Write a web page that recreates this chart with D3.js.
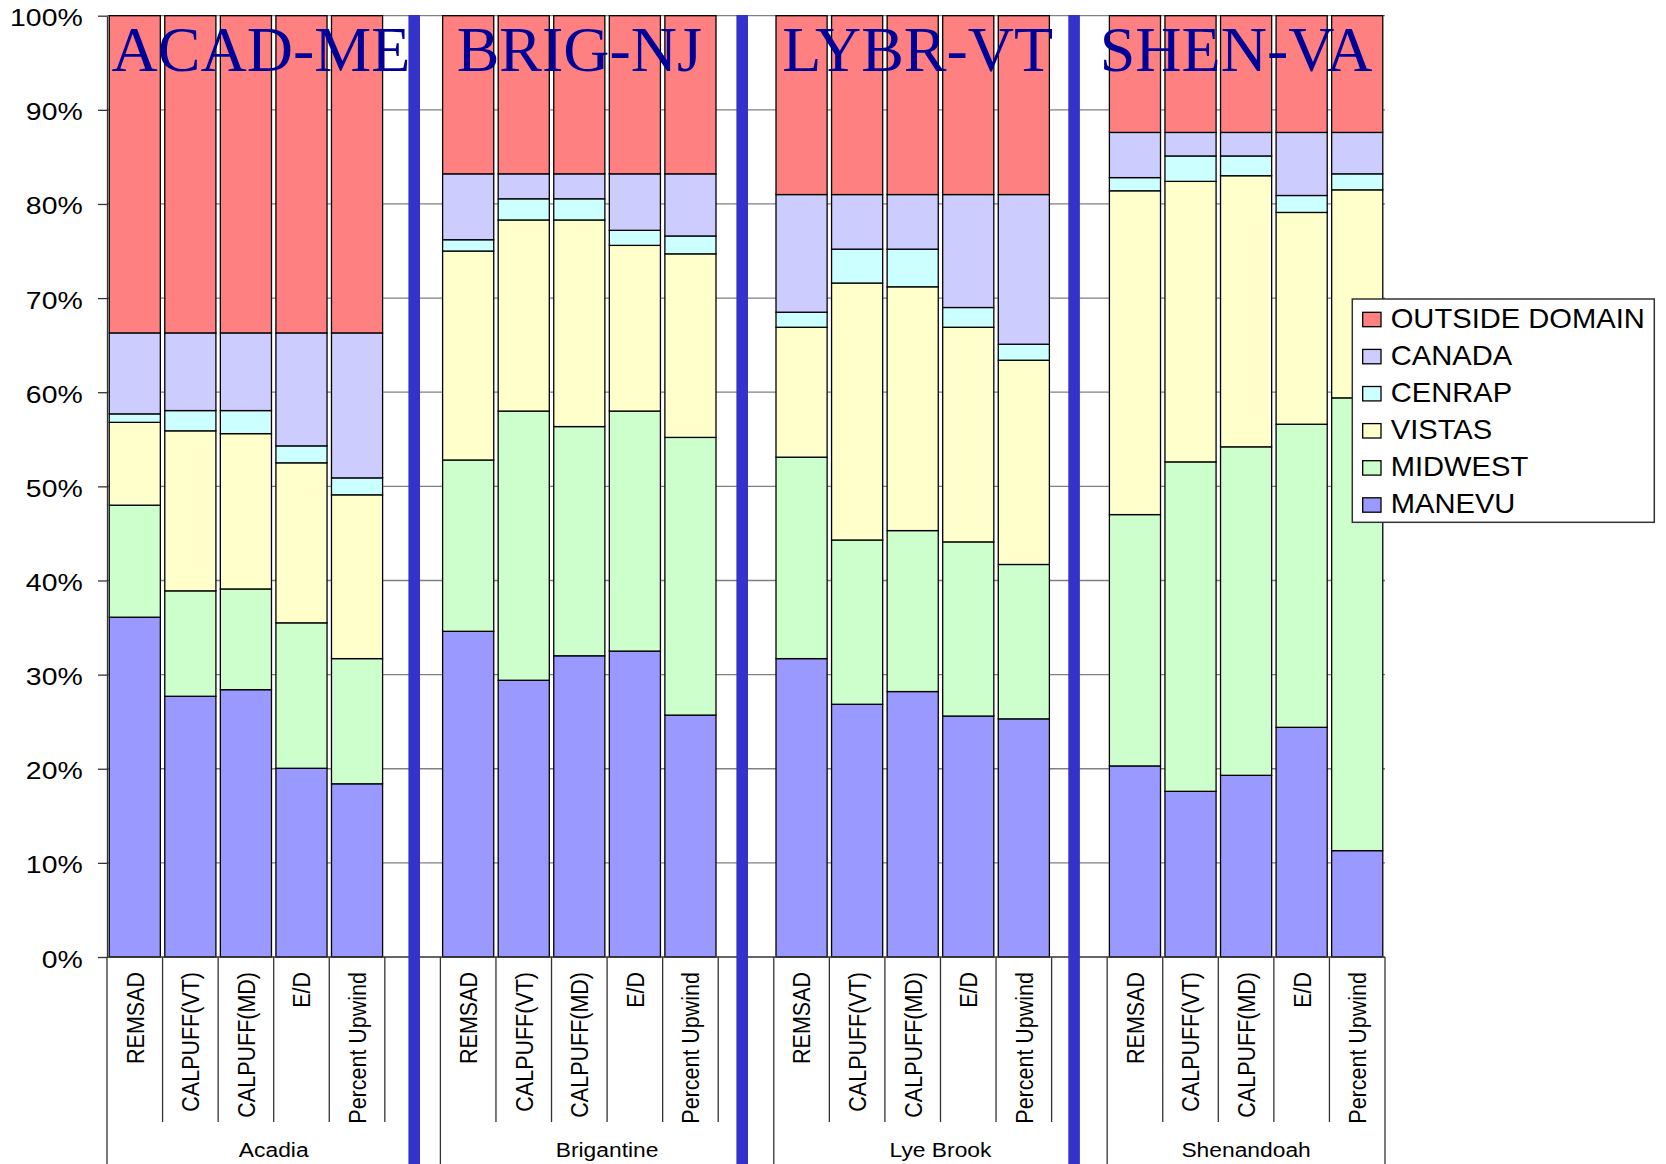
<!DOCTYPE html>
<html>
<head>
<meta charset="utf-8">
<script src="https://cdn.jsdelivr.net/npm/d3@7"></script>
<style>
body { margin: 0; background: #fff; }
text { font-family: "Liberation Sans", Arial, sans-serif; }
</style>
</head>
<body>
<script>
const width = 1666;
const height = 1164;

// data (percent of total, bottom to top)
const sites = ["Acadia", "Brigantine", "Lye Brook", "Shenandoah"];
const siteCodes = ["ACAD-ME", "BRIG-NJ", "LYBR-VT", "SHEN-VA"];
const methods = ["REMSAD", "CALPUFF(VT)", "CALPUFF(MD)", "E/D", "Percent Upwind"];
const regions = ["MANEVU", "MIDWEST", "VISTAS", "CENRAP", "CANADA", "OUTSIDE DOMAIN"];
const colors = ["#9999ff", "#ccffcc", "#ffffcc", "#ccffff", "#ccccff", "#ff8080"];

const manevu  = [36.1, 27.7, 28.4, 20.05, 18.4,  34.6, 29.4, 32.0, 32.5, 25.7,  31.7, 26.85, 28.2, 25.6, 25.3,  20.3, 17.6, 19.3, 24.4, 11.3];
const midwest = [11.9, 11.2, 10.7, 15.45, 13.3,  18.2, 28.6, 24.35, 25.5, 29.5,  21.4, 17.45, 17.1, 18.5, 16.4,  26.7, 35.0, 34.9, 32.2, 48.1];
const vistas  = [8.8, 17.0, 16.5, 17.0, 17.4,  22.2, 20.3, 21.95, 17.6, 19.5,  13.8, 27.3, 25.9, 22.8, 21.7,  34.4, 29.8, 28.8, 22.5, 22.1];
const cenrap  = [0.9, 2.15, 2.45, 1.8, 1.8,  1.2, 2.25, 2.25, 1.6, 1.9,  1.6, 3.6, 4.0, 2.1, 1.7,  1.4, 2.7, 2.1, 1.8, 1.7];
const canada  = [8.6, 8.25, 8.25, 12.0, 15.4,  7.0, 2.65, 2.65, 6.0, 6.6,  12.5, 5.8, 5.8, 12.0, 15.9,  4.8, 2.5, 2.5, 6.7, 4.4];
const outside = [33.7, 33.7, 33.7, 33.7, 33.7,  16.8, 16.8, 16.8, 16.8, 16.8,  19.0, 19.0, 19.0, 19.0, 19.0,  12.4, 12.4, 12.4, 12.4, 12.4];
const seriesValues = [manevu, midwest, vistas, cenrap, canada, outside];

const yTicks = [0, 0.1, 0.2, 0.3, 0.4, 0.5, 0.6, 0.7, 0.8, 0.9, 1.0];

// layout
const plotLeft = 107, plotRight = 1385, plotTop = 15.7, plotBottom = 957;
const xStretch = 1.15;

const svg = d3.select("body").append("svg")
    .attr("width", width)
    .attr("height", height);

// one slot per bar, plus an empty slot after each site except the last
const slots = [];
sites.forEach((s, i) => {
    methods.forEach(m => slots.push(s + "|" + m));
    if (i < sites.length - 1) slots.push(s + "|gap");
});

const x = d3.scaleBand()
    .domain(slots)
    .range([plotLeft, plotRight])
    .paddingInner(0.08)
    .paddingOuter(0.04);
const step = x.step();
const slotStart = k => x(k) - step * 0.04;

const y = d3.scaleLinear().domain([0, 1]).range([plotBottom, plotTop]);

const rows = [];
sites.forEach((s, i) => {
    methods.forEach((m, j) => {
        const row = { key: s + "|" + m };
        regions.forEach((r, k) => row[r] = seriesValues[k][i * methods.length + j]);
        rows.push(row);
    });
});

const stacked = d3.stack().keys(regions).offset(d3.stackOffsetExpand)(rows);

// gridlines
svg.append("g")
    .selectAll("line")
    .data(yTicks.filter(d => d > 0))
    .join("line")
    .attr("x1", plotLeft)
    .attr("x2", plotRight)
    .attr("y1", d => y(d))
    .attr("y2", d => y(d))
    .attr("stroke", "#808080")
    .attr("stroke-width", 1.3);

// bars
svg.append("g")
    .selectAll("g")
    .data(stacked)
    .join("g")
    .attr("fill", (d, i) => colors[i])
    .selectAll("rect")
    .data(d => d)
    .join("rect")
    .attr("x", d => x(d.data.key))
    .attr("width", x.bandwidth())
    .attr("y", d => y(d[1]))
    .attr("height", d => y(d[0]) - y(d[1]))
    .attr("stroke", "#000")
    .attr("stroke-width", 1.3);

// y axis
const yAxis = svg.append("g")
    .attr("transform", `translate(${plotLeft},0)`)
    .call(d3.axisLeft(y).tickValues(yTicks).tickFormat(d3.format(".0%")).tickSize(9).tickSizeOuter(0));
yAxis.select(".domain").attr("stroke", "#333").attr("stroke-width", 1.3);
yAxis.selectAll(".tick line").attr("stroke", "#333").attr("stroke-width", 1.3);
yAxis.selectAll(".tick text")
    .attr("x", -24.3 / xStretch)
    .attr("dy", null)
    .attr("y", 10)
    .attr("transform", `scale(${xStretch},1)`)
    .attr("font-family", "Liberation Sans, Arial, sans-serif")
    .attr("font-size", 24.7)
    .attr("fill", "#000");

// category axis
const catAxis = svg.append("g")
    .attr("stroke", "#333")
    .attr("stroke-width", 1.3);

catAxis.append("line")
    .attr("x1", plotLeft).attr("x2", plotRight)
    .attr("y1", plotBottom).attr("y2", plotBottom);

sites.forEach((s, i) => {
    const first = slotStart(s + "|" + methods[0]);
    const last = i < sites.length - 1 ? slotStart(s + "|gap") + step : plotRight;
    catAxis.append("line")
        .attr("x1", first).attr("x2", first)
        .attr("y1", plotBottom).attr("y2", height);
    methods.forEach((m, j) => {
        if (j === 0) return;
        const bx = slotStart(s + "|" + m);
        catAxis.append("line")
            .attr("x1", bx).attr("x2", bx)
            .attr("y1", plotBottom).attr("y2", 1122);
    });
    if (i < sites.length - 1) {
        const bx = slotStart(s + "|gap");
        catAxis.append("line")
            .attr("x1", bx).attr("x2", bx)
            .attr("y1", plotBottom).attr("y2", 1122);
    } else {
        catAxis.append("line")
            .attr("x1", last).attr("x2", last)
            .attr("y1", plotBottom).attr("y2", height);
    }

    svg.append("text")
        .attr("transform", `translate(${(first + last) / 2},1157) scale(1.17,1)`)
        .attr("text-anchor", "middle")
        .attr("font-size", 19.5)
        .text(s);
});

svg.append("g")
    .selectAll("text")
    .data(rows)
    .join("text")
    .attr("transform", d => `translate(${x(d.key) + x.bandwidth() / 2},972) scale(${xStretch},1) rotate(-90)`)
    .attr("text-anchor", "end")
    .attr("y", 7.7)
    .attr("font-size", 21.5)
    .text(d => d.key.split("|")[1]);

// site code titles
const titleNudge = [15, 0, 5, -10];
svg.append("g")
    .selectAll("text")
    .data(siteCodes)
    .join("text")
    .attr("x", (d, i) => {
        const a = x(sites[i] + "|" + methods[0]);
        const b = x(sites[i] + "|" + methods[methods.length - 1]) + x.bandwidth();
        return (a + b) / 2 + titleNudge[i];
    })
    .attr("y", 71)
    .attr("text-anchor", "middle")
    .style("font-family", "'Liberation Serif', 'Times New Roman', serif")
    .attr("font-size", 64)
    .attr("fill", "#000099")
    .text(d => d);

// blue dividers in the empty slots
const dividerNudge = [1.6, -3.8, -5.3];
svg.append("g")
    .selectAll("rect")
    .data(sites.slice(0, -1))
    .join("rect")
    .attr("x", (d, i) => x(d + "|gap") + x.bandwidth() / 2 + dividerNudge[i] - 5.8)
    .attr("width", 11.6)
    .attr("y", 15)
    .attr("height", height - 15)
    .attr("fill", "#3333cc");

// legend
const legend = svg.append("g").attr("transform", "translate(1352.3,299)");
legend.append("rect")
    .attr("width", 302)
    .attr("height", 223.3)
    .attr("fill", "#fff")
    .attr("stroke", "#333")
    .attr("stroke-width", 1.5);

const legendOrder = regions.slice().reverse();
const item = legend.selectAll("g.item")
    .data(legendOrder)
    .join("g")
    .attr("class", "item")
    .attr("transform", (d, i) => `translate(0,${28.7 + i * 37.1})`);

item.append("rect")
    .attr("x", 10.4)
    .attr("y", -15.4)
    .attr("width", 18.3)
    .attr("height", 14.4)
    .attr("fill", d => colors[regions.indexOf(d)])
    .attr("stroke", "#000")
    .attr("stroke-width", 1.3);

item.append("text")
    .attr("transform", "translate(38.4,0) scale(1.06,1)")
    .attr("font-size", 27.5)
    .text(d => d);
</script>
</body>
</html>
